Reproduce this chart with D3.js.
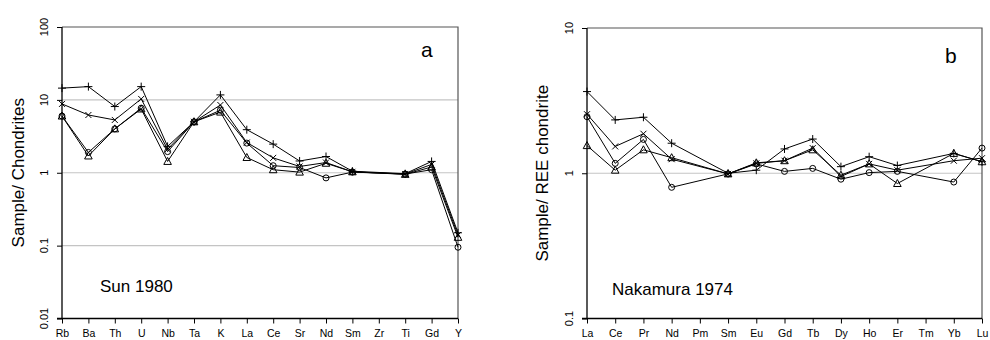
<!DOCTYPE html>
<html>
<head>
<meta charset="utf-8">
<script src="https://cdn.jsdelivr.net/npm/d3@7"></script>
<style>
  body { margin: 0; background: #fff; }
  svg { display: block; font-family: Arial, "Liberation Sans", sans-serif; }
</style>
</head>
<body>
<div id="chart"></div>
<script>
var width = 990
var height = 340

// panel a: spider diagram (Sun 1980)
var elementsA = ["Rb", "Ba", "Th", "U", "Nb", "Ta", "K", "La", "Ce", "Sr", "Nd", "Sm", "Zr", "Ti", "Gd", "Y"]
var plusA   = [14.5, 15.2, 8.1, 15.2, 2.3, 5.0, 11.7, 3.9, 2.47, 1.45, 1.67, 1.05, null, 0.97, 1.43, 0.15]
var crossA  = [8.8, 6.2, 5.3, 10.3, 2.1, 5.0, 8.5, 2.6, 1.6, 1.22, 1.38, 1.03, null, 0.96, 1.3, 0.14]
var circleA = [6.0, 1.9, 4.0, 7.7, 1.95, 5.0, 7.2, 2.55, 1.25, 1.18, 0.85, 1.02, null, 0.96, 1.1, 0.095]
var triA    = [6.0, 1.7, 4.0, 7.5, 1.43, 5.0, 6.8, 1.62, 1.1, 1.02, 1.35, 1.03, null, 0.95, 1.2, 0.13]
var yTicksA = [0.01, 0.1, 1, 10, 100]
var gridA = [0.1, 1, 10]

// panel b: REE pattern (Nakamura 1974)
var elementsB = ["La", "Ce", "Pr", "Nd", "Pm", "Sm", "Eu", "Gd", "Tb", "Dy", "Ho", "Er", "Tm", "Yb", "Lu"]
var plusB   = [3.65, 2.33, 2.43, 1.61, null, 1.0, 1.05, 1.47, 1.72, 1.11, 1.30, 1.13, null, 1.37, 1.2]
var crossB  = [2.55, 1.53, 1.87, 1.25, null, 0.99, 1.17, 1.22, 1.49, 0.95, 1.16, 1.05, null, 1.22, 1.27]
var circleB = [2.45, 1.17, 1.71, 0.80, null, 0.99, 1.16, 1.03, 1.08, 0.91, 1.01, 1.03, null, 0.87, 1.49]
var triB    = [1.55, 1.05, 1.45, 1.28, null, 0.99, 1.18, 1.22, 1.45, 0.97, 1.16, 0.85, null, 1.37, 1.2]
var yTicksB = [0.1, 1, 10]
var gridB = [1]

var svg = d3.select("#chart").append("svg").attr("width", width).attr("height", height)

function marker(g, type, x, y) {
    if (type == "plus") {
        g.append("path").attr("d", `M${x-4},${y}H${x+4}M${x},${y-4}V${y+4}`)
            .attr("stroke", "#000").attr("fill", "none")
    } else if (type == "cross") {
        g.append("path").attr("d", `M${x-3},${y-3}L${x+3},${y+3}M${x-3},${y+3}L${x+3},${y-3}`)
            .attr("stroke", "#000").attr("fill", "none")
    } else if (type == "circle") {
        g.append("circle").attr("cx", x).attr("cy", y).attr("r", 3)
            .attr("stroke", "#000").attr("fill", "none")
    } else {
        g.append("path").attr("d", `M${x},${y-4}L${x+3.8},${y+3}L${x-3.8},${y+3}Z`)
            .attr("stroke", "#000").attr("fill", "none")
    }
}

function drawPanel(p) {
    var g = svg.append("g")
    var x = d3.scalePoint().domain(p.cats).range([p.left, p.right])
    var y = d3.scaleLog().domain(p.yDomain).range([p.bottom, p.top])

    // grid
    g.selectAll(".grid").data(p.grid).enter().append("line")
        .attr("x1", p.left).attr("x2", p.right)
        .attr("y1", d => y(d)).attr("y2", d => y(d))
        .attr("stroke", "#c4c4c4").attr("stroke-width", 1.2)

    // frame top + right
    g.append("path")
        .attr("d", `M${p.left},${p.top}H${p.right}V${p.bottom}`)
        .attr("stroke", "#555").attr("stroke-width", 1.2).attr("fill", "none")

    // y axis
    var yAxis = d3.axisLeft(y).tickValues(p.yTicks).tickSize(5).tickFormat(d => d3.format("~g")(d))
    var ya = g.append("g").attr("transform", `translate(${p.left},0)`).call(yAxis)
    ya.select(".domain").attr("stroke", "#000").attr("stroke-width", 1.3).attr("d", `M0,${p.top}V${p.bottom}`)
    ya.selectAll(".tick text").remove()
    g.selectAll(".ylab").data(p.yTicks).enter().append("text")
        .attr("transform", d => `translate(${p.left - 14},${y(d)}) rotate(-90)`)
        .attr("text-anchor", "middle").attr("font-size", 11).text(d => d3.format("~g")(d))

    // x axis
    var xAxis = d3.axisBottom(x).tickSize(5).tickPadding(6)
    var xa = g.append("g").attr("transform", `translate(0,${p.bottom})`).call(xAxis)
    xa.select(".domain").attr("stroke", "#000").attr("stroke-width", 1.3).attr("d", `M${p.left - 5},0H${p.right}`)
    xa.selectAll(".tick text").attr("font-size", 10.5).attr("font-family", "Arial, Liberation Sans, sans-serif")
        .attr("dy", null).attr("y", 18.5)

    // series
    var line = d3.line().x(d => x(d.c)).y(d => y(d.v))
    p.series.forEach(function(s) {
        var pts = p.cats.map((c, i) => ({ c: c, v: s.values[i] })).filter(d => d.v != null)
        g.append("path").datum(pts).attr("d", line)
            .attr("fill", "none").attr("stroke", "#000").attr("stroke-width", 1)
        pts.forEach(d => marker(g, s.type, x(d.c), y(d.v)))
    })

    // texts
    g.append("text").attr("transform", `translate(${p.titleX},${(p.top + p.bottom) / 2}) rotate(-90)`)
        .attr("text-anchor", "middle").attr("font-size", 17).text(p.yTitle)
    g.append("text").attr("x", p.noteX).attr("y", p.noteY).attr("font-size", 17).text(p.note)
    g.append("text").attr("x", p.letterX).attr("y", p.letterY).attr("font-size", 21).text(p.letter)
}

drawPanel({
    cats: elementsA, left: 62, right: 458, top: 27, bottom: 318.5,
    yDomain: [0.01, 100], yTicks: yTicksA, grid: gridA,
    series: [
        { type: "plus", values: plusA },
        { type: "cross", values: crossA },
        { type: "circle", values: circleA },
        { type: "tri", values: triA }
    ],
    yTitle: "Sample/ Chondrites", titleX: 24,
    note: "Sun 1980", noteX: 100, noteY: 292,
    letter: "a", letterX: 421, letterY: 57
})

drawPanel({
    cats: elementsB, left: 587, right: 982, top: 28, bottom: 318.5,
    yDomain: [0.1, 10], yTicks: yTicksB, grid: gridB,
    series: [
        { type: "plus", values: plusB },
        { type: "cross", values: crossB },
        { type: "circle", values: circleB },
        { type: "tri", values: triB }
    ],
    yTitle: "Sample/ REE chondrite", titleX: 548,
    note: "Nakamura 1974", noteX: 612, noteY: 295,
    letter: "b", letterX: 945, letterY: 63
})
</script>
</body>
</html>
